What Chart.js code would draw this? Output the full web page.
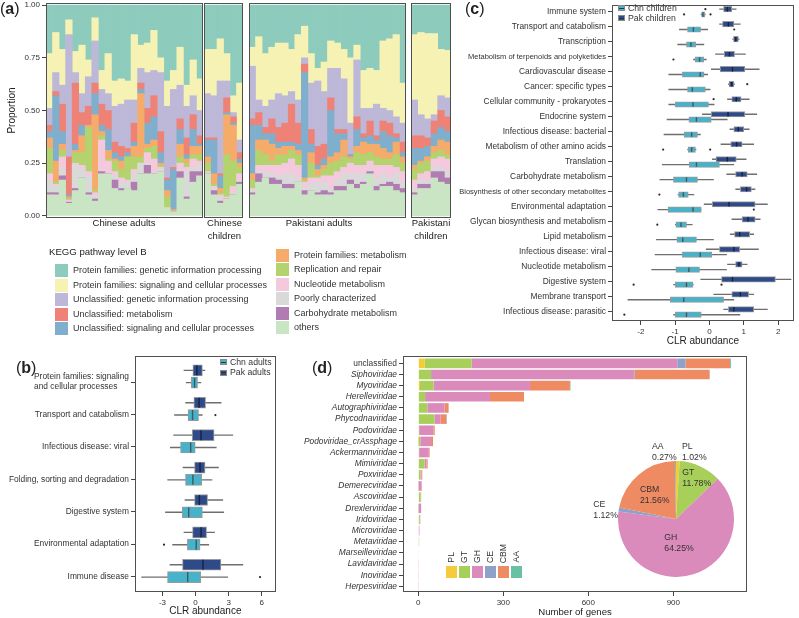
<!DOCTYPE html>
<html>
<head>
<meta charset="utf-8">
<title>Figure</title>
<script src="https://cdn.jsdelivr.net/npm/chart.js@4.4.1/dist/chart.umd.min.js"></script>
<style>
html,body{margin:0;padding:0;background:#ffffff;}
body{position:relative;width:799px;height:618px;overflow:hidden;font-family:'Liberation Sans',Arial,Helvetica,sans-serif;color:#222;}
canvas{position:absolute;}
.t{position:absolute;white-space:pre;line-height:1;z-index:2;}
.sw{position:absolute;z-index:2;box-sizing:border-box;}
</style>
</head>
<body>
<script>
// ================= DATA =================
// ---- panel (a): KEGG level B composition ----
const groupNames = ['Chinese adults', 'Chinese children', 'Pakistani adults', 'Pakistani children'];
const groupSizes = [24, 6, 24, 6];
const keggLevels = [
  'Protein families: genetic information processing',
  'Protein families: signaling and cellular processes',
  'Unclassified: genetic information processing',
  'Unclassified: metabolism',
  'Unclassified: signaling and cellular processes',
  'Protein families: metabolism',
  'Replication and repair',
  'Nucleotide metabolism',
  'Poorly characterized',
  'Carbohydrate metabolism',
  'others'
];
const keggColors = ['#8dcbbd','#f6f2b4','#bdb8d8','#ee8276','#80aecd','#f5ab69','#b3d36f','#f4c9de','#d9d9d9','#b07cb2','#cae5c3'];
// cumulative upper edge of each layer per sample (bottom layer first)
const topOthers = [
 .10,.10,.17,.06,.12,.18,.10,.07,.20,.20,.13,.12,.13,.12,.20,.20,.20,.21,.04,.02,.18,.08,.16,.19,
 .20,.10,.06,.08,.10,.15,
 .10,.16,.18,.15,.15,.13,.13,.16,.10,.12,.10,.10,.10,.12,.12,.15,.13,.15,.20,.12,.14,.14,.12,.11,
 .10,.13,.13,.18,.16,.15];
const topCarbohydrate = [
 .11,.11,.19,.065,.13,.18,.11,.08,.21,.20,.17,.13,.13,.16,.20,.24,.20,.21,.04,.02,.21,.09,.21,.21,
 .20,.12,.07,.08,.10,.16,
 .11,.20,.18,.18,.17,.15,.15,.16,.12,.12,.11,.12,.11,.14,.14,.17,.15,.16,.21,.14,.15,.16,.15,.13,
 .11,.15,.15,.21,.21,.18];
const topPoorly = [
 .17,.14,.23,.07,.24,.22,.19,.09,.21,.20,.19,.16,.16,.20,.25,.25,.20,.22,.04,.02,.22,.21,.23,.24,
 .20,.13,.09,.08,.11,.17,
 .12,.21,.21,.20,.19,.20,.20,.18,.13,.15,.16,.16,.13,.17,.20,.20,.20,.20,.22,.18,.20,.18,.20,.16,
 .13,.17,.17,.23,.23,.21];
const topNucleotide = [
 .20,.15,.28,.075,.25,.24,.21,.11,.36,.26,.21,.18,.17,.22,.25,.30,.27,.23,.04,.02,.25,.23,.27,.26,
 .21,.14,.10,.09,.14,.20,
 .13,.24,.24,.24,.24,.25,.27,.24,.16,.18,.18,.19,.19,.21,.23,.25,.24,.24,.26,.24,.24,.24,.23,.21,
 .17,.20,.21,.27,.28,.27];
const topReplication = [
 .32,.16,.31,.08,.30,.30,.42,.12,.38,.27,.26,.22,.28,.28,.28,.32,.33,.24,.09,.02,.28,.25,.29,.29,
 .25,.15,.11,.29,.26,.23,
 .17,.31,.29,.26,.29,.29,.31,.29,.17,.25,.19,.22,.25,.26,.28,.27,.30,.29,.30,.28,.27,.27,.29,.25,
 .22,.25,.26,.30,.31,.29];
const topPfMetabolism = [
 .37,.26,.34,.09,.31,.38,.43,.48,.40,.31,.27,.26,.28,.33,.58,.34,.36,.25,.12,.03,.34,.27,.33,.33,
 .28,.20,.13,.48,.43,.25,
 .20,.36,.36,.34,.32,.33,.33,.31,.18,.30,.22,.24,.28,.30,.36,.28,.33,.35,.34,.34,.32,.30,.35,.28,
 .24,.26,.28,.33,.36,.35];
const topUnSignaling = [
 .40,.57,.40,.10,.34,.43,.43,.58,.43,.41,.30,.28,.30,.35,.60,.44,.47,.30,.17,.22,.41,.29,.41,.34,
 .36,.36,.19,.49,.44,.27,
 .43,.43,.39,.39,.35,.35,.35,.34,.68,.34,.24,.27,.50,.39,.39,.29,.41,.37,.38,.36,.40,.38,.37,.30,
 .32,.32,.33,.39,.42,.40];
const topUnMetabolism = [
 .43,.59,.53,.28,.63,.49,.52,.63,.53,.50,.35,.33,.32,.44,.63,.51,.57,.40,.18,.23,.46,.37,.48,.38,
 .37,.37,.20,.56,.47,.30,
 .46,.49,.42,.46,.42,.44,.53,.44,.72,.41,.33,.34,.56,.41,.41,.29,.47,.39,.45,.38,.45,.44,.39,.35,
 .38,.38,.37,.45,.50,.47];
const topUnGenetic = [
 .51,.68,.62,.86,.68,.58,.66,.83,.60,.58,.52,.53,.55,.55,.70,.68,.69,.68,.52,.60,.62,.52,.57,.50,
 .58,.57,.64,.64,.49,.36,
 .71,.55,.52,.55,.58,.57,.59,.55,.75,.63,.64,.59,.70,.70,.65,.44,.74,.51,.51,.53,.51,.50,.47,.44,
 .55,.48,.46,.48,.57,.56];
const topPfSignaling = [
 .77,.87,.79,.93,.78,.81,.74,.94,.69,.77,.64,.65,.64,.86,.81,.82,.88,.75,.64,.69,.80,.62,.74,.65,
 .79,.79,.84,.77,.57,.63,
 .80,.85,.77,.80,.82,.82,.79,.86,.90,.77,.70,.73,.83,.82,.79,.75,.81,.69,.70,.69,.83,.84,.86,.63,
 .86,.87,.865,.865,.79,.785];
const proportionTicks = [0, 0.25, 0.5, 0.75, 1];

// ---- panel (b): adults, CLR abundance boxplots ----
const bCategories = ['Protein families: signaling and cellular processes','Transport and catabolism','Infectious disease: viral','Folding, sorting and degradation','Digestive system','Environmental adaptation','Immune disease'];
const bPakMin = [-1.06,-0.91,-2.00,-1.15,-0.97,-1.06,-2.33];
const bPakQ1  = [-0.24,-0.15,-0.30,-0.09,-0.09,-0.27,-1.18];
const bPakMed = [ 0.12, 0.32, 0.50, 0.41, 0.35, 0.50, 0.68];
const bPakQ3  = [ 0.62, 0.91, 1.68, 0.86, 1.09, 1.00, 2.30];
const bPakMax = [ 0.86, 2.33, 3.39, 2.09, 2.48, 1.74, 4.30];
const bChnMin = [-0.86,-1.92,-2.30,-2.54,-2.74,-2.09,-4.90];
const bChnQ1  = [-0.38,-0.68,-1.36,-0.91,-1.21,-0.74,-2.54];
const bChnMed = [-0.09,-0.27,-0.44,-0.24,-0.62, 0.06,-0.71];
const bChnQ3  = [ 0.18, 0.27,-0.03, 0.56, 0.62, 0.41, 0.47];
const bChnMax = [ 0.50, 0.62, 1.89, 1.50, 2.57, 1.21, 2.92];
const bChnOutliers = [[1, 1.80], [5, -2.86], [6, 5.85]];
const bTicks = [-3, 0, 3, 6];

// ---- panel (c): children, CLR abundance boxplots ----
const cCategories = ['Immune system','Transport and catabolism','Transcription','Metabolism of terpenoids and polyketides','Cardiovascular disease','Cancer: specific types','Cellular community - prokaryotes','Endocrine system','Infectious disease: bacterial','Metabolism of other amino acids','Translation','Carbohydrate metabolism','Biosynthesis of other secondary metabolites','Environmental adaptation','Glycan biosynthesis and metabolism','Lipid metabolism','Infectious disease: viral','Nucleotide metabolism','Digestive system','Membrane transport','Infectious disease: parasitic'];
const cPakMin = [0.29,0.29,0.67,0.17,0.05,0.55,0.52,-0.21,0.59,0.33,0.08,0.50,0.76,-0.16,0.65,0.60,-0.10,0.52,-0.26,0.12,0.41];
const cPakQ1  = [0.41,0.38,0.70,0.43,0.31,0.57,0.65,0.05,0.71,0.62,0.19,0.76,0.90,0.08,0.95,0.73,0.29,0.76,0.35,0.65,0.55];
const cPakMed = [0.52,0.55,0.76,0.58,0.67,0.65,0.78,0.54,0.84,0.79,0.52,0.95,1.08,0.57,1.12,0.88,0.71,0.86,0.67,0.90,0.71];
const cPakQ3  = [0.65,0.71,0.84,0.73,1.03,0.71,0.92,1.03,1.00,0.95,0.78,1.10,1.22,1.33,1.33,1.17,0.88,0.95,1.92,1.14,1.29];
const cPakMax = [0.78,0.90,0.87,1.05,1.45,0.73,1.16,1.38,1.16,1.29,1.07,1.38,1.33,1.69,1.48,1.29,1.43,1.10,2.38,1.29,1.69];
const cPakOutliers = [[0, -0.12], [5, 1.10], [6, 0.12]];
const cChnMin = [-0.25,-0.88,-0.93,-0.47,-1.19,-1.19,-1.19,-1.24,-1.33,-0.64,-1.38,-1.45,-0.92,-1.51,-1.00,-1.55,-1.59,-1.69,-1.05,-2.38,-1.05];
const cChnQ1  = [-0.23,-0.64,-0.67,-0.42,-0.79,-0.64,-1.00,-0.60,-0.74,-0.62,-0.59,-1.05,-0.90,-1.21,-0.98,-0.95,-0.79,-0.98,-1.00,-1.14,-1.00];
const cChnMed = [-0.19,-0.47,-0.54,-0.29,-0.27,-0.50,-0.48,-0.38,-0.52,-0.52,-0.38,-0.67,-0.76,-0.48,-0.83,-0.78,-0.27,-0.60,-0.67,-0.75,-0.67];
const cChnQ3  = [-0.14,-0.26,-0.40,-0.17,-0.16,-0.12,-0.03, 0.05,-0.35,-0.41, 0.29,-0.35,-0.62,-0.24,-0.67,-0.38, 0.07,-0.29,-0.48, 0.41,-0.24];
const cChnMax = [-0.12,-0.05,-0.16,-0.09,-0.05, 0.02, 0.14, 0.52,-0.26,-0.39, 0.71, 0.12,-0.45,-0.24,-0.50, 0.12, 0.50, 0.50,-0.47, 0.71, 0.89];
const cChnOutliers = [[0,-0.74],[0,0.03],[1,0.72],[3,-1.05],[9,-1.35],[9,0.02],[12,-1.46],[13,1.29],[14,-1.52],[18,-2.21],[18,0.35],[20,-2.48]];
const cTicks = [-2, -1, 0, 1, 2];

// ---- panel (d): CAZyme genes per viral family ----
const dFamilies = ['unclassified','Siphoviridae','Myoviridae','Herelleviridae','Autographiviridae','Phycodnaviridae','Podoviridae','Podoviridae_crAssphage','Ackermannviridae','Mimiviridae','Poxviridae','Demerecviridae','Ascoviridae','Drexlerviridae','Iridoviridae','Microviridae','Metaviridae','Marseilleviridae','Lavidaviridae','Inoviridae','Herpesviridae'];
const cazyClasses = ['PL','GT','GH','CE','CBM','AA'];
const cazyColors  = ['#f5cb3c','#a7cf5a','#db8abc','#8fa0c9','#ef8b63','#69c1a4'];
const genesPL  = [ 23,  2,  6,  2,  2,  0,  0,  1,  0,  0, 0,  0, 2, 0, 0, 0, 0, 0, 0, 0, 0];
const genesGT  = [165, 43, 48, 22, 30, 57,  3,  6,  3, 22, 8,  1, 6, 1, 5, 0, 3, 2, 0, 0, 0];
const genesGH  = [726,716,340,229, 61, 22, 50, 38, 34,  7, 4, 11, 1, 9, 1, 4, 0, 0, 1, 1, 1];
const genesCE  = [ 29,  2,  0,  0,  1,  0,  0,  0,  0,  0, 0,  0, 0, 0, 0, 0, 0, 0, 0, 0, 0];
const genesCBM = [157,265,141,120, 13, 20,  5,  7,  3,  4, 2,  0, 1, 0, 1, 0, 0, 0, 0, 0, 0];
const genesAA  = [  3,  1,  2,  0,  0,  2,  0,  0,  0,  0, 0,  0, 0, 0, 0, 0, 0, 0, 0, 0, 0];
const geneTicks = [0, 300, 600, 900];
const cazyShare = [1.02, 11.78, 64.25, 1.12, 21.56, 0.27]; // %, same order as cazyClasses

// ================= HELPERS =================
const FONT = "'Liberation Sans', Arial, Helvetica, sans-serif";
Chart.defaults.font.family = FONT;
Chart.defaults.color = '#333';
const PAK = '#2f4a88', CHN = '#47b3ca';

function canvasAt(left, top, w, h) {
  const c = document.createElement('canvas');
  c.width = w; c.height = h;
  c.style.left = left + 'px'; c.style.top = top + 'px';
  c.style.width = w + 'px'; c.style.height = h + 'px';
  document.body.appendChild(c);
  return c;
}
const framePlugin = {
  id: 'frame',
  afterDraw(chart) {
    const a = chart.chartArea, g = chart.ctx;
    g.save(); g.strokeStyle = '#505050'; g.lineWidth = 1;
    g.strokeRect(Math.round(a.left) + 0.5, Math.round(a.top) + 0.5, Math.round(a.right - a.left) - 1, Math.round(a.bottom - a.top) - 1);
    g.restore();
  }
};
function fixSize(dim, size) {
  return s => { s[dim] = size; s.paddingTop = 0; s.paddingBottom = 0; s.paddingLeft = 0; s.paddingRight = 0; };
}
function setTicks(vals) { return s => { s.ticks = vals.map(v => ({ value: v })); }; }
const base = { responsive: false, animation: false, events: [], plugins: { legend: { display: false }, tooltip: { enabled: false } } };
const tickGrid = { drawOnChartArea: false, offset: false, tickLength: 4, color: '#444', lineWidth: 1 };

function txt(s, x, yc, size, o = {}) {
  const d = document.createElement('div');
  d.className = 't';
  if (o.html) d.innerHTML = s; else d.textContent = s;
  let st = `font-size:${size}px;top:${yc - size / 2}px;`;
  if (o.align === 'center') st += `left:${x}px;transform:translateX(-50%);`;
  else st += `left:${x}px;`;
  if (o.bold) st += 'font-weight:bold;';
  if (o.color) st += `color:${o.color};`;
  d.style.cssText = st;
  document.body.appendChild(d);
  return d;
}
function rect(x, y, w, h, fill, extra = '') {
  const d = document.createElement('div');
  d.className = 'sw';
  d.style.cssText = `left:${x}px;top:${y}px;width:${w}px;height:${h}px;background:${fill};${extra}`;
  document.body.appendChild(d);
  return d;
}

// ================= PANEL (a) =================
const stackTops = [topOthers, topCarbohydrate, topPoorly, topNucleotide, topReplication, topPfMetabolism, topUnSignaling, topUnMetabolism, topUnGenetic, topPfSignaling];
const stackColors = keggColors.slice().reverse(); // bottom layer first
const aFrames = [{ left: 0, width: 203, axis: true }, { left: 204, width: 39 }, { left: 249, width: 157 }, { left: 411, width: 40 }];
let sampleOffset = 0;
groupNames.forEach((g, gi) => {
  const n = groupSizes[gi], F = aFrames[gi];
  const idx = Array.from({ length: n }, (_, j) => sampleOffset + j);
  const datasets = stackColors.map((col, k) => ({
    data: idx.map(i => [k ? stackTops[k - 1][i] : 0, k < stackTops.length ? stackTops[k][i] : 1]),
    backgroundColor: col, borderWidth: 0, grouped: false, barPercentage: 1, categoryPercentage: 1
  }));
  const yScale = F.axis ? {
    min: -0.01, max: 1.01,
    afterFit: fixSize('width', 46),
    afterBuildTicks: setTicks(proportionTicks),
    ticks: { padding: 2, font: { size: 8 }, color: '#333', callback: v => Number(v).toFixed(2) },
    grid: tickGrid, border: { display: false },
    title: { display: true, text: 'Proportion', color: '#222', font: { size: 10 }, padding: { top: 6, bottom: 0 } }
  } : { display: false, min: -0.01, max: 1.01 };
  new Chart(canvasAt(F.left, 0, F.width, 218), {
    type: 'bar',
    data: { labels: idx.map(String), datasets },
    options: {
      ...base,
      layout: { padding: { top: 3, left: 0, right: 0, bottom: 0 } },
      scales: { x: { display: false }, y: yScale }
    },
    plugins: [framePlugin]
  });
  sampleOffset += n;
});
// facet strip labels
txt('Chinese adults', 124, 223, 9.5, { align: 'center' });
txt('Chinese', 224.5, 223, 9.5, { align: 'center' });
txt('children', 224.5, 235.5, 9.5, { align: 'center' });
txt('Pakistani adults', 319, 223, 9.5, { align: 'center' });
txt('Pakistani', 431, 223, 9.5, { align: 'center' });
txt('children', 431, 235.5, 9.5, { align: 'center' });
// legend
txt('KEGG pathway level B', 49, 251.7, 9.6);
const legRows1 = [270.8, 285.3, 299.8, 314.3, 328.8];
const legRows2 = [255.3, 269.8, 284.3, 298.8, 313.3, 327.8];
keggLevels.forEach((name, i) => {
  const col1 = i < 5;
  const yc = col1 ? legRows1[i] : legRows2[i - 5];
  const sx = col1 ? 55 : 276;
  rect(sx, yc - 6.5, 13, 13, keggColors[i]);
  txt(name, sx + 18, yc, 9, { color: '#333' });
});

// ================= BOX PLOT HELPERS =================
function boxSets(st, shift, fill, boxH, medColor) {
  return [
    { type: 'bar', indexAxis: 'y', grouped: false, order: 3, barThickness: 1, inflateAmount: 0.2,
      data: st.min.map((v, i) => ({ x: [v, st.max[i]], y: i + shift })), backgroundColor: '#6e6e6e', borderWidth: 0 },
    { type: 'bar', indexAxis: 'y', grouped: false, order: 2, barThickness: boxH,
      data: st.q1.map((v, i) => ({ x: [v, st.q3[i]], y: i + shift })), backgroundColor: fill, borderColor: '#9a9a9a', borderWidth: 1, borderSkipped: false },
    { type: 'scatter', order: 1, data: st.med.map((v, i) => ({ x: v, y: i + shift })),
      pointStyle: 'line', pointRotation: 90, pointRadius: boxH / 2 - 0.5, pointBorderColor: medColor, pointBorderWidth: 1.4, pointBackgroundColor: medColor }
  ];
}
function outlierSet(list, shift) {
  return { type: 'scatter', order: 0, data: list.map(([i, v]) => ({ x: v, y: i + shift })),
    pointRadius: 1.1, pointBackgroundColor: '#2b2b2b', pointBorderWidth: 0 };
}
function boxLegend(x, yc, fill, label) {
  const b = rect(x, yc - 3, 7, 6, fill, 'border:1px solid #8a8a8a;');
  const m = document.createElement('div');
  m.style.cssText = 'position:absolute;left:0;top:1.5px;width:5px;height:1px;background:#333;';
  b.appendChild(m);
  txt(label, x + 10, yc, 8.7, { color: '#333' });
}
const measure = document.createElement('canvas').getContext('2d');
function wrapLabel(label, size) {
  if (label.length <= 40) return label;
  const words = label.split(' ');
  let l1 = '';
  while (words.length && (l1 + ' ' + words[0]).trim().length <= 27) l1 = (l1 + ' ' + words.shift()).trim();
  let l2 = words.join(' ');
  measure.font = `${size}px ${FONT}`;
  const w1 = measure.measureText(l1).width;
  while (measure.measureText(l2 + ' ').width <= w1) l2 += ' ';
  return [l1, l2];
}

// ================= PANEL (b) =================
new Chart(canvasAt(0, 350, 282, 268), {
  type: 'bar',
  data: { datasets: [
    ...boxSets({ min: bPakMin, q1: bPakQ1, med: bPakMed, q3: bPakQ3, max: bPakMax }, -0.36, PAK, 11, '#17223f'),
    ...boxSets({ min: bChnMin, q1: bChnQ1, med: bChnMed, q3: bChnQ3, max: bChnMax }, 0.02, CHN, 11, '#3d5a62'),
    outlierSet(bChnOutliers, 0.02)
  ] },
  options: {
    ...base,
    layout: { padding: { top: 6, right: 3, left: 0, bottom: 0 } },
    scales: {
      x: { type: 'linear', min: -5.49, max: 7.26, offset: false,
        afterFit: fixSize('height', 26), afterBuildTicks: setTicks(bTicks),
        ticks: { padding: 2, font: { size: 8 }, color: '#333', callback: v => String(v) },
        grid: tickGrid, border: { display: false },
        title: { display: true, text: 'CLR abundance', color: '#222', font: { size: 10 }, padding: { top: 0, bottom: 1 } } },
      y: { type: 'linear', reverse: true, min: -0.79, max: 6.48, offset: false,
        afterFit: fixSize('width', 135), afterBuildTicks: setTicks(bCategories.map((_, i) => i)),
        ticks: { autoSkip: false, padding: 2, font: { size: 8.4 }, color: '#333', callback: v => wrapLabel(bCategories[v] || '', 8.4) },
        grid: tickGrid, border: { display: false } }
    }
  },
  plugins: [framePlugin]
});
boxLegend(220, 362.3, CHN, 'Chn adults');
boxLegend(220, 372.7, PAK, 'Pak adults');

// ================= PANEL (c) =================
new Chart(canvasAt(440, 0, 359, 350), {
  type: 'bar',
  data: { datasets: [
    ...boxSets({ min: cPakMin, q1: cPakQ1, med: cPakMed, q3: cPakQ3, max: cPakMax }, -0.165, PAK, 5.5, '#17223f'),
    ...boxSets({ min: cChnMin, q1: cChnQ1, med: cChnMed, q3: cChnQ3, max: cChnMax }, 0.19, CHN, 5.5, '#3d5a62'),
    outlierSet(cPakOutliers, -0.165),
    outlierSet(cChnOutliers, 0.19)
  ] },
  options: {
    ...base,
    layout: { padding: { top: 1, right: 1, left: 0, bottom: 0 } },
    scales: {
      x: { type: 'linear', min: -2.84, max: 2.45, offset: false,
        afterFit: fixSize('height', 29), afterBuildTicks: setTicks(cTicks),
        ticks: { padding: 2, font: { size: 8 }, color: '#333', callback: v => String(v) },
        grid: tickGrid, border: { display: false },
        title: { display: true, text: 'CLR abundance', color: '#222', font: { size: 10 }, padding: { top: 0, bottom: 3 } } },
      y: { type: 'linear', reverse: true, min: -0.414, max: 20.61, offset: false,
        afterFit: fixSize('width', 172), afterBuildTicks: setTicks(cCategories.map((_, i) => i)),
        ticks: { autoSkip: false, padding: 2, color: '#333',
          font: c => ({ size: (c.tick && (cCategories[c.tick.value] || '').length > 36) ? 7.5 : 8.4 }),
          callback: v => cCategories[v] || '' },
        grid: tickGrid, border: { display: false } }
    }
  },
  plugins: [framePlugin]
});
boxLegend(618, 8.3, CHN, 'Chn children');
boxLegend(618, 18, PAK, 'Pak children');

// ================= PANEL (d) =================
const geneSeries = [genesPL, genesGT, genesGH, genesCE, genesCBM, genesAA];
new Chart(canvasAt(300, 350, 450, 268), {
  type: 'bar',
  data: { datasets: geneSeries.map((arr, k) => ({
    label: cazyClasses[k],
    data: arr.map((v, i) => ({ x: v, y: i })),
    backgroundColor: cazyColors[k], borderWidth: 0, barThickness: 9.6, inflateAmount: 0
  })) },
  options: {
    ...base,
    indexAxis: 'y',
    layout: { padding: { top: 6, right: 3, left: 0, bottom: 0 } },
    scales: {
      x: { type: 'linear', stacked: true, min: -54, max: 1160, offset: false,
        afterFit: fixSize('height', 26), afterBuildTicks: setTicks(geneTicks),
        ticks: { padding: 2, font: { size: 8 }, color: '#333', callback: v => String(v) },
        grid: tickGrid, border: { display: false },
        title: { display: true, text: 'Number of genes', color: '#222', font: { size: 9.6 }, padding: { top: 0, bottom: 0 } } },
      y: { type: 'linear', stacked: true, reverse: true, min: -0.66, max: 20.51, offset: false,
        afterFit: fixSize('width', 103), afterBuildTicks: setTicks(dFamilies.map((_, i) => i)),
        ticks: { autoSkip: false, padding: 2, color: '#333',
          font: c => ({ size: 8.4, style: (c.tick && dFamilies[c.tick.value] === 'unclassified') ? 'normal' : 'italic' }),
          callback: v => dFamilies[v] || '' },
        grid: tickGrid, border: { display: false } }
    }
  },
  plugins: [framePlugin]
});
// pie of CAZyme classes
new Chart(canvasAt(618, 461, 116, 116), {
  type: 'pie',
  data: { labels: cazyClasses, datasets: [{ data: cazyShare, backgroundColor: cazyColors, borderWidth: 0 }] },
  options: { ...base, layout: { padding: 0 } }
});
const pieLabelPos = { PL: [682, 446.7], GT: [682.3, 472.3], GH: [664.3, 537.3], CE: [593.3, 504], CBM: [640, 489], AA: [652, 446.7] };
cazyClasses.forEach((c, k) => {
  const [x, y] = pieLabelPos[c];
  txt(c, x, y, 8.7, { color: '#333' });
  txt(cazyShare[k].toFixed(2) + '%', x, y + 11, 8.7, { color: '#333' });
});
// class legend
cazyClasses.forEach((c, k) => {
  const x = 445.7 + k * 13;
  rect(x, 565.7, 11.7, 12.7, cazyColors[k]);
  const d = document.createElement('div');
  d.className = 't';
  d.textContent = c;
  d.style.cssText = `font-size:8.7px;left:${x + 5.85 - 4.35}px;bottom:${618 - 563}px;writing-mode:vertical-rl;transform:rotate(180deg);color:#333;`;
  document.body.appendChild(d);
});

// ================= PANEL LETTERS =================
txt('(<b>a</b>)', 0, 9.2, 16, { html: true });
txt('(<b>b</b>)', 16, 367.5, 16, { html: true });
txt('(<b>c</b>)', 465, 9.2, 16, { html: true });
txt('(<b>d</b>)', 312, 367.5, 16, { html: true });
</script>
</body>
</html>
